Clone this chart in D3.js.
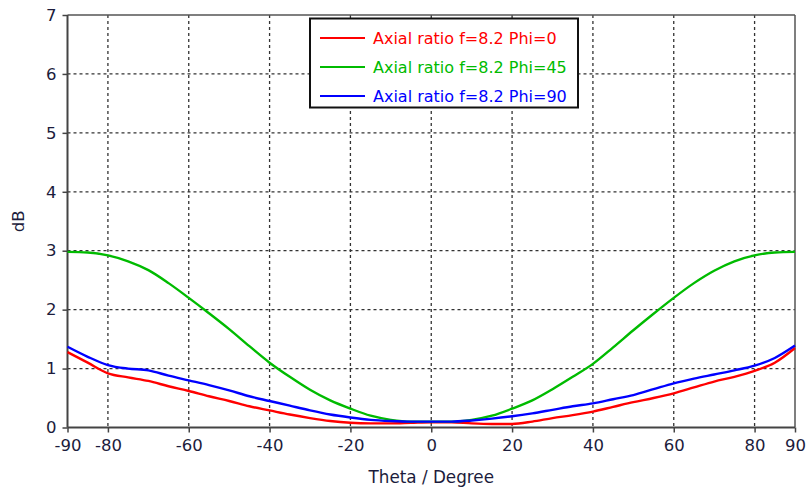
<!DOCTYPE html>
<html>
<head>
<meta charset="utf-8">
<script src="https://cdn.jsdelivr.net/npm/d3@7"></script>
<style>
  body { margin: 0; background: #fff; }
  svg { display: block; }
  text { font-family: "DejaVu Sans", Tahoma, sans-serif; }
</style>
</head>
<body>
<svg id="chart" width="806" height="492"></svg>
<script>
const theta = [-90,-85,-80,-75,-70,-65,-60,-55,-50,-45,-40,-35,-30,-25,-20,-15,-10,-5,0,5,10,15,20,25,30,35,40,45,50,55,60,65,70,75,80,85,90];
const phi0 = [1.28,1.10,0.92,0.85,0.79,0.70,0.62,0.53,0.45,0.36,0.29,0.22,0.16,0.11,0.08,0.07,0.07,0.08,0.09,0.09,0.07,0.06,0.06,0.10,0.16,0.21,0.27,0.35,0.43,0.50,0.58,0.68,0.78,0.86,0.96,1.10,1.35];
const phi45 = [2.98,2.97,2.92,2.82,2.67,2.45,2.20,1.94,1.67,1.38,1.10,0.86,0.64,0.46,0.32,0.20,0.13,0.10,0.10,0.10,0.13,0.20,0.32,0.46,0.65,0.86,1.08,1.36,1.65,1.93,2.20,2.45,2.66,2.82,2.92,2.97,2.98];
const phi90 = [1.37,1.20,1.06,1.00,0.97,0.88,0.80,0.72,0.63,0.53,0.45,0.37,0.29,0.22,0.17,0.13,0.11,0.10,0.10,0.10,0.12,0.15,0.19,0.24,0.30,0.36,0.41,0.48,0.55,0.65,0.75,0.83,0.90,0.97,1.05,1.18,1.39];
const seriesNames = ["Axial ratio f=8.2 Phi=0", "Axial ratio f=8.2 Phi=45", "Axial ratio f=8.2 Phi=90"];
const seriesColors = ["#ff0000", "#00bb00", "#0000ff"];
const xTicks = [-90,-80,-60,-40,-20,0,20,40,60,80,90];
const yTicks = [0,1,2,3,4,5,6,7];

const svg = d3.select("#chart");
const L = 67.5, R = 795, T = 15, B = 427.5;
const x = d3.scaleLinear().domain([-90, 90]).range([L, R]);
const y = d3.scaleLinear().domain([0, 7]).range([B, T]);
const textColor = "#1c1c3c";
const fontFam = '"DejaVu Sans", Tahoma, sans-serif';

// grid
const grid = svg.append("g");
grid.selectAll("line.gx").data(xTicks.filter(d => d > -90 && d < 90)).join("line")
  .attr("x1", d => x(d)).attr("x2", d => x(d)).attr("y1", T).attr("y2", B)
  .attr("stroke", "#333").attr("stroke-width", 1.3).attr("stroke-dasharray", "3,3");
grid.selectAll("line.gy").data(yTicks.filter(d => d > 0 && d < 7)).join("line")
  .attr("x1", L).attr("x2", R).attr("y1", d => y(d)).attr("y2", d => y(d))
  .attr("stroke", "#333").attr("stroke-width", 1.3).attr("stroke-dasharray", "3,3");

// frame top/right
svg.append("line").attr("x1", L).attr("x2", R).attr("y1", T).attr("y2", T).attr("stroke", "#555").attr("stroke-width", 1.5);
svg.append("line").attr("x1", R).attr("x2", R).attr("y1", T).attr("y2", B).attr("stroke", "#555").attr("stroke-width", 1.5);

// axes
const xAxis = d3.axisBottom(x).tickValues(xTicks).tickSize(5).tickPadding(7).tickFormat(d => String(d));
const yAxis = d3.axisLeft(y).tickValues(yTicks).tickSize(5).tickPadding(6).tickFormat(d => String(d));
const gx = svg.append("g").attr("transform", `translate(0,${B})`).call(xAxis);
const gy = svg.append("g").attr("transform", `translate(${L},0)`).call(yAxis);
[gx, gy].forEach(g => {
  g.select(".domain").attr("stroke", "#444").attr("stroke-width", 2);
  g.selectAll(".tick line").attr("stroke", "#444").attr("stroke-width", 1.5);
  g.selectAll(".tick text").attr("fill", textColor).attr("font-size", 16.5)
    .attr("font-family", fontFam);
});
gx.select(".domain").attr("d", `M${L},0H${R}`);
gy.select(".domain").attr("d", `M0,${T}V${B}`);

// axis titles
svg.append("text").attr("x", (L + R) / 2).attr("y", 483).attr("text-anchor", "middle")
  .attr("fill", textColor).attr("font-size", 16.8).text("Theta / Degree");
svg.append("text").attr("transform", `translate(24,${y(3.5)}) rotate(-90)`).attr("text-anchor", "middle")
  .attr("fill", textColor).attr("font-size", 16.5).text("dB");

// lines
const allSeries = [phi0, phi45, phi90];
const line = d3.line().x((d, i) => x(theta[i])).y(d => y(d)).curve(d3.curveMonotoneX);
allSeries.forEach((s, k) => {
  svg.append("path").datum(s).attr("d", line).attr("fill", "none")
    .attr("stroke", seriesColors[k]).attr("stroke-width", 2.4);
});

// legend
const lg = svg.append("g");
lg.append("rect").attr("x", 310).attr("y", 18.5).attr("width", 268).attr("height", 89)
  .attr("fill", "#fff").attr("stroke", "#111").attr("stroke-width", 2);
seriesNames.forEach((n, k) => {
  const yy = 38 + k * 29;
  lg.append("line").attr("x1", 320).attr("x2", 365).attr("y1", yy).attr("y2", yy)
    .attr("stroke", seriesColors[k]).attr("stroke-width", 2);
  lg.append("text").attr("x", 373).attr("y", yy + 6).attr("fill", seriesColors[k])
    .attr("font-size", 16).text(n);
});
</script>
</body>
</html>
